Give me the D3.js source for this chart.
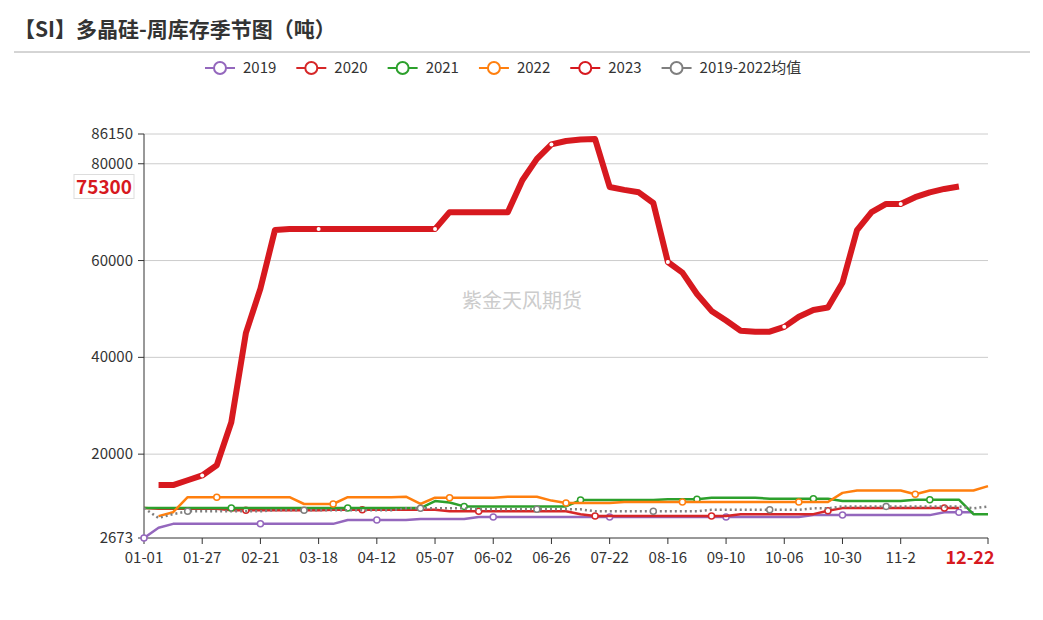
<!DOCTYPE html>
<html><head><meta charset="utf-8">
<script src="https://cdn.jsdelivr.net/npm/d3@7"></script>
<style>body{margin:0;background:#fff;font-family:"Noto Sans CJK SC","Noto Sans",sans-serif}</style>
</head><body><svg width="1043" height="620"></svg>
<script>
const tickLabels = ['01-01','01-27','02-21','03-18','04-12','05-07','06-02','06-26','07-22','08-16','09-10','10-06','10-30','11-2'];
const lastLabel = '12-22';
const yTicks = [2673, 20000, 40000, 60000, 80000, 86150];
const N = 59;

const s2019 = [2673,4800,5600,5600,5600,5600,5600,5600,5600,5600,5600,5600,5600,5600,6400,6400,6400,6400,6400,6600,6600,6600,6600,7000,7000,7000,7000,7000,7000,7000,7000,7000,7000,7000,7000,7000,7000,7000,7000,7000,7000,7000,7000,7000,7000,7000,7400,7400,7400,7400,7400,7400,7400,7400,7400,8000,8000,8000,null];
const s2020 = [8850,8700,8700,8700,8700,8700,8400,8400,8400,8400,8400,8400,8400,8500,8500,8500,8500,8500,8500,8500,8500,8200,8200,8200,8200,8200,8200,8200,8200,8200,7600,7200,7200,7200,7200,7200,7200,7200,7200,7200,7200,7600,7600,7600,7600,7600,7600,8300,8850,8850,8850,8850,8850,8850,8850,8850,8850,null,null];
const s2021 = [8850,8850,8850,8850,8850,8850,8850,8850,8850,8850,8850,8850,8850,8850,8850,8850,8850,8850,8850,8850,10300,10000,9200,9200,9200,9200,9200,9200,9200,9200,10500,10500,10500,10500,10500,10500,10700,10700,10700,11000,11000,11000,11000,10800,10800,10800,10800,10800,10300,10300,10300,10300,10300,10600,10600,10600,10600,7600,7600];
const s2022 = [null,7200,8000,11100,11100,11100,11100,11100,11100,11100,11100,9700,9700,9700,11100,11100,11100,11100,11200,9700,11000,11000,11000,11000,11000,11200,11200,11200,10400,9900,9900,9900,9900,10100,10100,10100,10100,10100,10100,10100,10100,10100,10100,10100,10100,10100,10100,10100,12000,12500,12500,12500,12500,11700,12500,12500,12500,12500,13400];
const s2023 = [null,13600,13600,14600,15600,17700,26600,45000,54200,66300,66500,66500,66500,66500,66500,66500,66500,66500,66500,66500,66500,70000,70000,70000,70000,70000,76600,81000,84000,84700,85000,85100,75200,74600,74100,71900,59700,57500,53100,49600,47600,45500,45300,45300,46300,48400,49800,50300,55400,66300,70000,71700,71700,73100,74100,74800,75300,null,null];
const sAvg = [8850,6800,7600,8200,8200,8200,8200,8200,8200,8400,8400,8400,8400,8400,8400,8400,8400,8400,8800,8800,8800,8800,8800,8600,8600,8600,8600,8600,8600,8600,8600,8200,8200,8200,8200,8200,8200,8200,8200,8500,8500,8500,8500,8500,8500,8500,8800,8800,9200,9200,9200,9200,9200,9200,9200,9200,9200,8800,9200];

const series = [
  {name:'2019', data:s2019, color:'#9467bd', w:2.5},
  {name:'2020', data:s2020, color:'#d62728', w:2.5},
  {name:'2021', data:s2021, color:'#2ca02c', w:2.5},
  {name:'2022', data:s2022, color:'#ff7f0e', w:2.5},
  {name:'2023', data:s2023, color:'#d7191f', w:6},
  {name:'2019-2022均值', data:sAvg, color:'#7f7f7f', w:2.5, dash:'2,3'}
];

const svg = d3.select('svg');
svg.append('text').attr('x', 14).attr('y', 37).attr('font-size', 21).attr('font-weight', 'bold')
  .attr('fill', '#333').text('【SI】多晶硅-周库存季节图（吨）');
svg.append('line').attr('x1', 14).attr('x2', 1030).attr('y1', 52).attr('y2', 52).attr('stroke', '#aaa');

const x = d3.scaleLinear().domain([0, N - 1]).range([144, 988]);
const y = d3.scaleLinear().domain([2673, 86150]).range([538, 134]);

svg.append('text').attr('x', 522).attr('y', 308).attr('text-anchor', 'middle').attr('font-size', 20)
  .attr('fill', '#ccc').text('紫金天风期货');

// grid + y labels
yTicks.forEach(t => {
  if (t !== 2673) svg.append('line').attr('x1', 144).attr('x2', 988).attr('y1', y(t)).attr('y2', y(t)).attr('stroke', '#ccc');
  svg.append('line').attr('x1', 138).attr('x2', 144).attr('y1', y(t)).attr('y2', y(t)).attr('stroke', '#333');
  svg.append('text').attr('x', 133).attr('y', y(t) + 5).attr('text-anchor', 'end').attr('font-size', 15)
    .attr('fill', '#333').text(t);
});
svg.append('line').attr('x1', 144).attr('x2', 144).attr('y1', 134).attr('y2', 538).attr('stroke', '#333');
svg.append('line').attr('x1', 144).attr('x2', 988).attr('y1', 538).attr('y2', 538).attr('stroke', '#333');

// x labels
tickLabels.forEach((l, i) => {
  svg.append('line').attr('x1', x(i * 4)).attr('x2', x(i * 4)).attr('y1', 538).attr('y2', 544).attr('stroke', '#333');
  svg.append('text').attr('x', x(i * 4)).attr('y', 563).attr('text-anchor', 'middle').attr('font-size', 15)
    .attr('fill', '#333').text(l);
});
svg.append('line').attr('x1', 988).attr('x2', 988).attr('y1', 538).attr('y2', 544).attr('stroke', '#333');
svg.append('text').attr('x', 970).attr('y', 564).attr('text-anchor', 'middle').attr('font-size', 18)
  .attr('font-weight', 'bold').attr('fill', '#d7191f').text(lastLabel);

const line = d3.line().defined(d => d != null).x((d, i) => x(i)).y(d => y(d));
[0, 1, 2, 3, 5, 4].forEach(k => {
  const s = series[k];
  svg.append('path').attr('d', line(s.data)).attr('fill', 'none').attr('stroke', s.color)
    .attr('stroke-width', s.w).attr('stroke-dasharray', s.dash || null).attr('stroke-linejoin', 'round');
  s.data.forEach((d, i) => {
    if (d == null || (i + k) % 8 !== 0) return;
    svg.append('circle').attr('cx', x(i)).attr('cy', y(d)).attr('r', k === 4 ? 2 : 3)
      .attr('fill', '#fff').attr('stroke', k === 4 ? 'none' : s.color).attr('stroke-width', 1.5);
  });
});

// current value label
const last = s2023[56];
svg.append('rect').attr('x', 74).attr('y', y(last) - 12).attr('width', 60).attr('height', 24)
  .attr('fill', '#fff').attr('stroke', '#ddd');
svg.append('text').attr('x', 104).attr('y', y(last) + 7).attr('text-anchor', 'middle').attr('font-size', 19)
  .attr('font-weight', 'bold').attr('fill', '#d7191f').text(last);

// legend
let lx = 205;
series.forEach(s => {
  const g = svg.append('g').attr('transform', `translate(${lx},68)`);
  g.append('line').attr('x1', 0).attr('x2', 30).attr('stroke', s.color).attr('stroke-width', 2);
  g.append('circle').attr('cx', 15).attr('r', 6).attr('fill', '#fff').attr('stroke', s.color).attr('stroke-width', 2);
  const t = g.append('text').attr('x', 38).attr('y', 5).attr('font-size', 15).attr('fill', '#333').text(s.name);
  lx += 38 + t.node().getComputedTextLength() + 20;
});
</script></body></html>
